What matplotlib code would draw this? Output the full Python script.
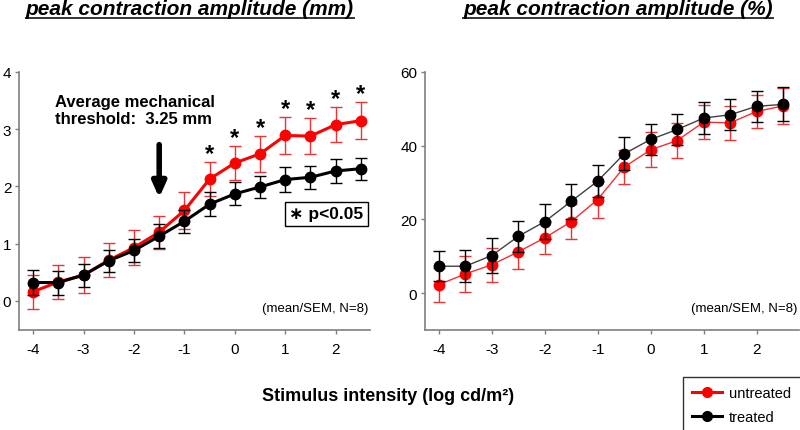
import matplotlib
matplotlib.use("Agg")
import matplotlib.pyplot as plt
from matplotlib.lines import Line2D

plt.rcParams['font.family'] = ['Liberation Sans', 'DejaVu Sans']
plt.rcParams['axes.unicode_minus'] = False

# ---------------- data ----------------
intensity = [-4, -3.5, -3, -2.5, -2, -1.5, -1, -0.5, 0, 0.5, 1, 1.5, 2, 2.5]

mm_untreated = [0.16, 0.33, 0.45, 0.71, 0.93, 1.20, 1.58, 2.13, 2.41, 2.57, 2.89, 2.88, 3.08, 3.15]
mm_untreated_sem = [0.30, 0.30, 0.31, 0.30, 0.30, 0.29, 0.32, 0.29, 0.29, 0.31, 0.32, 0.31, 0.30, 0.32]
mm_treated = [0.32, 0.32, 0.45, 0.70, 0.88, 1.13, 1.39, 1.69, 1.87, 1.99, 2.12, 2.16, 2.27, 2.31]
mm_treated_sem = [0.22, 0.21, 0.20, 0.19, 0.20, 0.21, 0.20, 0.21, 0.20, 0.20, 0.22, 0.20, 0.21, 0.19]

pct_untreated = [2.3, 5.2, 7.7, 11.2, 15.0, 19.4, 25.4, 34.2, 38.9, 41.4, 46.4, 46.2, 49.3, 50.8]
pct_untreated_sem = [4.6, 4.8, 4.6, 4.7, 4.5, 4.7, 5.0, 4.6, 4.7, 4.7, 4.7, 4.6, 4.5, 4.8]
pct_treated = [7.3, 7.3, 10.2, 15.4, 19.4, 24.9, 30.4, 37.8, 41.7, 44.4, 47.5, 48.4, 50.7, 51.2]
pct_treated_sem = [4.1, 4.3, 4.7, 4.3, 4.7, 4.7, 4.4, 4.5, 4.3, 4.3, 4.4, 4.2, 4.2, 4.6]

significant = [False, False, False, False, False, False, False, True, True, True, True, True, True, True]

x_ticks = [-4, -3, -2, -1, 0, 1, 2]
mm_ticks = [0, 1, 2, 3, 4]
pct_ticks = [0, 20, 40, 60]

title_mm = "peak contraction amplitude (mm)"
title_pct = "peak contraction amplitude (%)"
xlabel = "Stimulus intensity (log cd/m\u00b2)"
threshold_text = "Average mechanical\nthreshold:  3.25 mm"
threshold_x = -1.5
note_text = "(mean/SEM, N=8)"
series_names = ["untreated", "treated"]

RED = '#ff0000'
RED_ERR = '#e53535'
BLACK = '#000000'
SPINE = '#7f7f7f'

fig = plt.figure(figsize=(8.0, 4.31), dpi=100)
H = 431.0
W = 800.0
ax1 = fig.add_axes([19 / W, 1 - 331 / H, (370 - 19) / W, (331 - 73) / H])
ax2 = fig.add_axes([425 / W, 1 - 331 / H, (799 - 425) / W, (331 - 73) / H])


def style_axes(ax):
    for s in ['top', 'right']:
        ax.spines[s].set_visible(False)
    for s in ['left', 'bottom']:
        ax.spines[s].set_color(SPINE)
        ax.spines[s].set_linewidth(1.2)
    ax.tick_params(direction='out', length=3, width=1, color=SPINE,
                   labelsize=11, labelcolor='black')
    ax.tick_params(axis='x', pad=6)
    ax.tick_params(axis='y', pad=2.5)


# ---------- left panel ----------
ax1.errorbar(intensity, mm_untreated, yerr=mm_untreated_sem, fmt='none',
             ecolor=RED_ERR, elinewidth=1, capsize=4, capthick=1, zorder=2)
ax1.plot(intensity, mm_untreated, '-o', color=RED, lw=2.2, ms=7.5, zorder=3)
ax1.errorbar(intensity, mm_treated, yerr=mm_treated_sem, fmt='none',
             ecolor=BLACK, elinewidth=1, capsize=4, capthick=1, zorder=4)
ax1.plot(intensity, mm_treated, '-o', color=BLACK, lw=2.2, ms=7.5, zorder=5)

for xi, yi, ei, sig in zip(intensity, mm_untreated, mm_untreated_sem, significant):
    if sig:
        ax1.annotate('*', xy=(xi, yi + ei), xytext=(0, -2), textcoords='offset points',
                     ha='center', va='bottom', fontsize=17, fontweight='bold')

ax1.set_xlim(-4.28, 2.68)
ax1.set_ylim(-0.51, 4.0)
ax1.set_xticks(x_ticks)
ax1.set_yticks(mm_ticks)
style_axes(ax1)

ax1.text(0.103, 0.915, threshold_text, transform=ax1.transAxes, ha='left', va='top',
         fontsize=12, fontweight='bold', linespacing=1.2)
ax1.annotate('', xy=(threshold_x, 1.80), xytext=(threshold_x, 2.73),
             arrowprops=dict(arrowstyle='-|>,head_width=0.4,head_length=0.9',
                             color='black', lw=4, shrinkA=0, shrinkB=0))
ax1.text(0.875, 0.45, '\u2217 p<0.05', transform=ax1.transAxes, ha='center', va='center',
         fontsize=12.5, fontweight='bold',
         bbox=dict(boxstyle='square,pad=0.25', facecolor='white', edgecolor='black', lw=1))
ax1.text(0.995, 0.085, note_text, transform=ax1.transAxes, ha='right', va='center',
         fontsize=9.5)

# ---------- right panel ----------
ax2.errorbar(intensity, pct_untreated, yerr=pct_untreated_sem, fmt='none',
             ecolor=RED_ERR, elinewidth=1, capsize=4, capthick=1, zorder=2)
ax2.plot(intensity, pct_untreated, '-o', color='#f03030', lw=1, ms=7.5,
         markerfacecolor=RED, markeredgecolor=RED, zorder=3)
ax2.errorbar(intensity, pct_treated, yerr=pct_treated_sem, fmt='none',
             ecolor=BLACK, elinewidth=1, capsize=4, capthick=1, zorder=4)
ax2.plot(intensity, pct_treated, '-o', color='#404040', lw=1, ms=7.5,
         markerfacecolor=BLACK, markeredgecolor=BLACK, zorder=5)

ax2.set_xlim(-4.26, 2.8)
ax2.set_ylim(-10, 60)
ax2.set_xticks(x_ticks)
ax2.set_yticks(pct_ticks)
style_axes(ax2)
ax2.text(0.995, 0.085, note_text, transform=ax2.transAxes, ha='right', va='center',
         fontsize=9.5)

# ---------- titles with underline ----------
t1 = fig.text(190 / W, 1 - 15 / H, title_mm, ha='center', va='baseline',
              fontsize=15, fontweight='bold', fontstyle='italic')
t2 = fig.text(618 / W, 1 - 15 / H, title_pct, ha='center', va='baseline',
              fontsize=15, fontweight='bold', fontstyle='italic')

fig.text(388 / W, 1 - 397 / H, xlabel, ha='center', va='center',
         fontsize=13, fontweight='bold')

handles = [Line2D([], [], color=RED, lw=2.2, marker='o', ms=7),
           Line2D([], [], color=BLACK, lw=2.2, marker='o', ms=7)]
leg = fig.legend(handles, series_names, loc='upper left',
                 bbox_to_anchor=(683 / W, 1 - 378 / H), borderaxespad=0,
                 frameon=True, fancybox=False, edgecolor='black',
                 handlelength=2.0, handletextpad=0.5,
                 borderpad=0.65, labelspacing=0.65, prop={'size': 10.5})
leg.get_frame().set_linewidth(1)

fig.canvas.draw()
r = fig.canvas.get_renderer()
inv = fig.transFigure.inverted()
for t in (t1, t2):
    bb = t.get_window_extent(r).transformed(inv)
    y = 1 - 18.5 / H
    fig.add_artist(Line2D([bb.x0, bb.x1], [y, y], transform=fig.transFigure,
                          color='#333333', lw=1.4))

fig.savefig('out.png', dpi=100)
